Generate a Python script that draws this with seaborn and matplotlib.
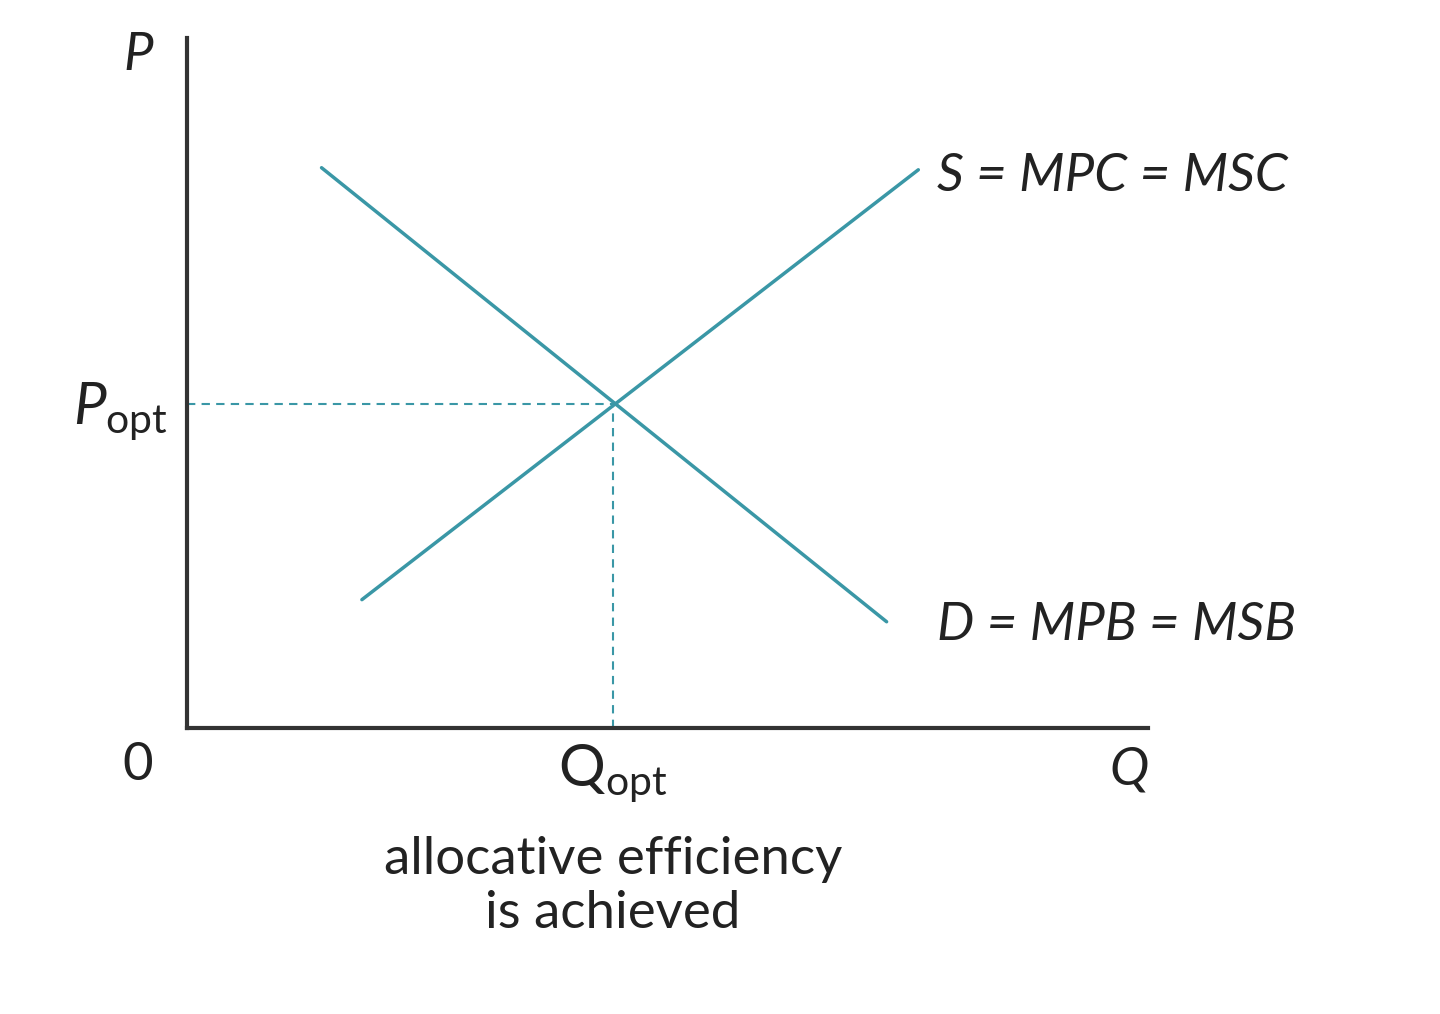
import matplotlib
matplotlib.use("Agg")
import matplotlib.pyplot as plt
import seaborn as sns
import pandas as pd

sns.set_theme(style="white")
plt.rcParams['font.family'] = ['Lato', 'DejaVu Sans']
plt.rcParams['mathtext.fontset'] = 'custom'
plt.rcParams['mathtext.rm'] = 'Lato'
plt.rcParams['mathtext.it'] = 'Lato:italic'

supply_q = [1.82, 7.61]
supply_p = [1.86, 8.09]
demand_q = [1.40, 7.28]
demand_p = [8.12, 1.54]
q_opt = 4.43
p_opt = 4.70

teal = "#3a97a6"
axc = "#333333"

fig = plt.figure(figsize=(14.4, 10.14), dpi=100)
ax = fig.add_axes([187/1440, 1-728/1014, (1148-187)/1440, (728-38)/1014])
ax.set_xlim(0, 10)
ax.set_ylim(0, 10)

sns.lineplot(x=supply_q, y=supply_p, ax=ax, color=teal, lw=2.5)
sns.lineplot(x=demand_q, y=demand_p, ax=ax, color=teal, lw=2.5)
ax.plot([0, q_opt], [p_opt, p_opt], ls=(0, (4, 3)), color=teal, lw=1.5)
ax.plot([q_opt, q_opt], [0, p_opt], ls=(0, (4, 3)), color=teal, lw=1.5)

for s in ['top', 'right']:
    ax.spines[s].set_visible(False)
for s in ['left', 'bottom']:
    ax.spines[s].set_color(axc)
    ax.spines[s].set_linewidth(3)
ax.set_xticks([])
ax.set_yticks([])

fs = 38
tc = "#222222"
ax.text(-0.35, 9.75, "P", style='italic', fontsize=fs, ha='right', va='center', color=tc)
ax.text(-0.2, p_opt - 0.1, r"$P_{\mathrm{opt}}$", fontsize=fs + 4, ha='right', va='center', color=tc)
ax.text(-0.35, -0.55, "0", fontsize=fs, ha='right', va='center', color=tc)
ax.text(q_opt, -0.65, r"$\mathrm{Q}_{\mathrm{opt}}$", fontsize=fs + 4, ha='center', va='center', color=tc)
ax.text(9.8, -0.6, "Q", style='italic', fontsize=fs, ha='center', va='center', color=tc)
ax.text(q_opt, -2.3, "allocative efficiency\nis achieved", fontsize=fs, ha='center', va='center',
        color=tc, linespacing=1.2)
ax.text(7.8, 8.0, "S = MPC = MSC", style='italic', fontsize=fs, ha='left', va='center', color=tc)
ax.text(7.8, 1.5, "D = MPB = MSB", style='italic', fontsize=fs, ha='left', va='center', color=tc)

fig.savefig("out.png", dpi=100)
